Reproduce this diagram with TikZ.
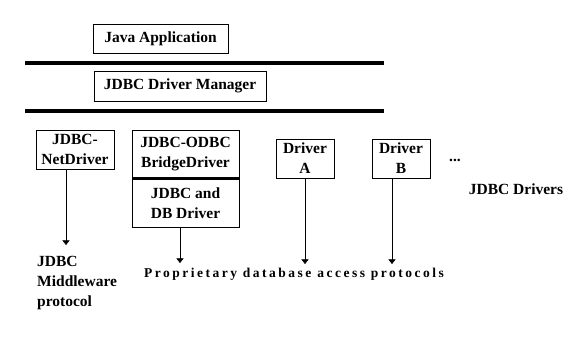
\documentclass[tikz,border=0pt]{standalone}
\usepackage{fontspec}
\setmainfont{Liberation Serif}
\usetikzlibrary{arrows.meta,positioning}

\begin{document}
\begin{tikzpicture}[
  x=1pt,y=-1pt,
  layer/.style={
    draw,
    thin,
    inner sep=0pt,
    align=center,
    font=\bfseries\fontsize{15.5}{20}\selectfont
  },
  barline/.style={line width=3.2pt},
  arrow/.style={-{Triangle[width=7pt,length=4.5pt]},thin},
  caption/.style={inner sep=0pt,font=\bfseries\fontsize{15.5}{20}\selectfont}
]
  \useasboundingbox (0,0) rectangle (571,339);
  % top of the stack
  \node[layer,minimum width=135,minimum height=29] (app) at (160.5,38.5) {Java Application};
  \coordinate (barAl) at (25,63);
  \coordinate (barAr) at (384,63);
  \draw[barline] (barAl) -- (barAr);
  \node[layer,minimum width=172,minimum height=30] (manager) at (180,86) {JDBC Driver Manager};
  \coordinate (barBl) at (25,111);
  \coordinate (barBr) at (384,111);
  \draw[barline] (barBl) -- (barBr);
  % drivers
  \node[layer,minimum width=78,minimum height=39] (net) at (75,149.5) {JDBC-\\NetDriver};
  \node[layer,minimum width=107,minimum height=48] (bridge) at (185.5,154) {JDBC-ODBC\\BridgeDriver};
  \node[layer,minimum width=107,minimum height=49,below=0pt of bridge] (dbdriver) {JDBC and\\DB Driver};
  \draw[barline] (bridge.south west) -- (bridge.south east);
  \node[layer,minimum width=58,minimum height=39] (drva) at (305,158.5) {Driver\\A};
  \node[layer,minimum width=58,minimum height=39] (drvb) at (401,158.5) {Driver\\B};
  \node[caption] (dots) at (455,160) {...};
  \node[caption] (drivers) at (516,189) {JDBC Drivers};
  % protocols
  \node[caption,align=left,anchor=north west] (middleware) at (37,256) {JDBC\\Middleware\\protocol};
  \node[caption,font=\bfseries\fontsize{13.5}{16}\selectfont\addfontfeature{LetterSpace=18.5}] (proprietary) at (294,274) {Proprietary database access protocols};
  \coordinate (netend) at (66,245);
  \coordinate (bridgeend) at (180,263);
  \coordinate (drvaend) at (305,264);
  \coordinate (drvbend) at (392,264);
  \draw[arrow] (net.south -| netend) -- (netend);
  \draw[arrow] (dbdriver.south -| bridgeend) -- (bridgeend);
  \draw[arrow] (drva.south -| drvaend) -- (drvaend);
  \draw[arrow] (drvb.south -| drvbend) -- (drvbend);
\end{tikzpicture}
\end{document}
